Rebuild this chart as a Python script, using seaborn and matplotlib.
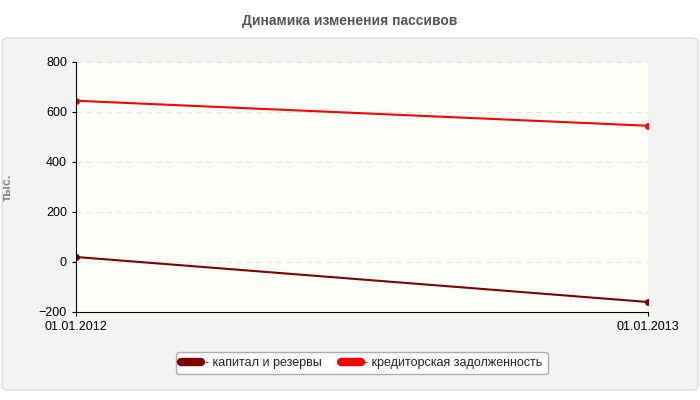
import matplotlib
matplotlib.use("Agg")
import matplotlib.pyplot as plt
import seaborn as sns
import pandas as pd
from matplotlib.patches import FancyBboxPatch

dates = ["01.01.2012", "01.01.2013"]
capital = [20, -160]
credit = [645, 545]

sns.set_style("white")
plt.rcParams['font.family'] = ['Liberation Sans', 'DejaVu Sans']

fig = plt.figure(figsize=(7, 4), dpi=100)
fig.patch.set_facecolor("white")
fig.patches.append(FancyBboxPatch((0.003, 0.025), 0.994, 0.88, boxstyle="round,pad=0,rounding_size=0.01",
                                  transform=fig.transFigure, facecolor="#f4f4f4", edgecolor="#dddddd", lw=1, zorder=-1))
fig.text(0.5, 0.948, "Динамика изменения пассивов", ha="center", va="center",
         fontsize=10, fontweight="bold", color="#555555")

ax = fig.add_axes([0.1086, 0.22, 0.8174, 0.625])
ax.set_facecolor("#fffffa")
df = pd.DataFrame({"x": [0, 1] * 2, "y": capital + credit,
                   "s": ["- капитал и резервы"] * 2 + ["- кредиторская задолженность"] * 2})
sns.lineplot(data=df, x="x", y="y", hue="s", palette=["#800000", "#ff0000"], marker="o",
             markersize=5, markeredgewidth=0, lw=1.5, ax=ax, legend=True)
ax.set_xlim(0, 1)
ax.set_ylim(-200, 800)
ax.set_yticks(range(-200, 801, 200))
ax.set_xticks([0, 1])
ax.set_xticklabels(dates)
ax.yaxis.grid(True, ls=(0, (5, 4)), color="#e4e4e4", lw=0.8)
ax.tick_params(labelsize=9, colors="#000000", length=3, left=True, bottom=True)
ax.set_xlabel("")
ax.set_ylabel("тыс.", fontsize=9, fontweight="bold", color="#888888", labelpad=18)
for s in ["top", "right"]:
    ax.spines[s].set_visible(False)
for s in ["left", "bottom"]:
    ax.spines[s].set_color("#000000"); ax.spines[s].set_linewidth(0.8)
h, l = ax.get_legend_handles_labels()
ax.legend(h, l, loc="center", bbox_to_anchor=(0.5, -0.205), ncol=2, fontsize=9,
          frameon=True, edgecolor="#999999", facecolor="white", handlelength=1.6, columnspacing=1.5,
          handletextpad=0.3)
for line in ax.get_legend().get_lines():
    line.set_linewidth(6); line.set_marker("")
fig.savefig("out.png", dpi=100)
